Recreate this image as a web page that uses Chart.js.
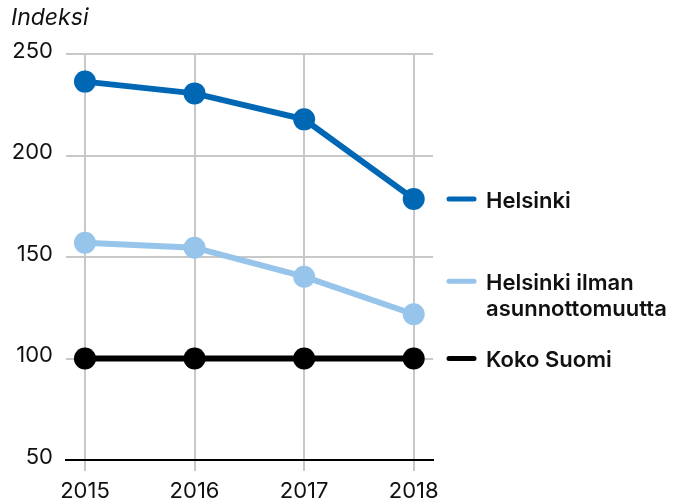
<!DOCTYPE html>
<html>
<head>
<meta charset="utf-8">
<script src="https://cdn.jsdelivr.net/npm/chart.js@4/dist/chart.umd.min.js"></script>
<style>
  html, body { margin: 0; padding: 0; background: #fff; }
  #wrap { width: 678px; height: 504px; }
</style>
</head>
<body>
<div id="wrap"><canvas id="chart"></canvas></div>
<script>
var years = [2015, 2016, 2017, 2018];
var yTicks = [50, 100, 150, 200, 250];
var helsinki = [236.4, 230.6, 217.8, 178.6];
var helsinkiIlman = [157, 154.6, 140.3, 121.8];
var kokoSuomi = [100, 100, 100, 100];
var seriesNames = [['Helsinki'], ['Helsinki ilman', 'asunnottomuutta'], ['Koko Suomi']];

var FONT = 'Inter, "Liberation Sans", Arial, sans-serif';

function pts(vals) {
  return years.map(function (y, i) { return { x: y, y: vals[i] }; });
}

function ds(vals, color) {
  return {
    data: pts(vals),
    borderColor: color,
    backgroundColor: color,
    pointBackgroundColor: color,
    pointBorderWidth: 0,
    pointRadius: 11,
    borderWidth: 6,
    clip: false
  };
}

// labels at the line ends, drawn on the canvas
var endLabels = {
  id: 'endLabels',
  afterDatasetsDraw: function (chart) {
    var ctx = chart.ctx;
    var ys = chart.scales.y;
    var offsets = [0, -33, 0];
    ctx.save();
    chart.data.datasets.forEach(function (d, i) {
      var last = d.data[d.data.length - 1].y;
      var py = ys.getPixelForValue(last) + offsets[i];
      ctx.strokeStyle = d.borderColor;
      ctx.lineWidth = 5;
      ctx.lineCap = 'round';
      ctx.beginPath();
      ctx.moveTo(449, py);
      ctx.lineTo(474, py);
      ctx.stroke();
      ctx.fillStyle = '#111';
      ctx.font = '600 22px ' + FONT;
      ctx.textBaseline = 'middle';
      ctx.textAlign = 'left';
      seriesNames[i].forEach(function (t, j) {
        ctx.fillText(t, 486, py + 2 + j * 26);
      });
    });
    // axis caption
    ctx.fillStyle = '#111';
    ctx.font = 'italic 23px ' + FONT;
    ctx.textBaseline = 'middle';
    ctx.fillText('Indeksi', 11, 18);
    ctx.restore();
  }
};

new Chart(document.getElementById('chart'), {
  type: 'line',
  data: {
    datasets: [
      ds(helsinki, '#0067b5'),
      ds(helsinkiIlman, '#97c4eb'),
      ds(kokoSuomi, '#000000')
    ]
  },
  options: {
    responsive: true,
    maintainAspectRatio: false,
    animation: false,
    layout: { padding: { top: 54, right: 245, left: 0, bottom: 0 } },
    plugins: {
      legend: { display: false },
      tooltip: { enabled: false }
    },
    scales: {
      x: {
        type: 'linear',
        min: 2014.827,
        max: 2018.176,
        afterBuildTicks: function (axis) {
          axis.ticks = years.map(function (v) { return { value: v }; });
        },
        afterFit: function (axis) { axis.height = 44; },
        grid: { color: '#c8c8c8', lineWidth: 2, tickLength: 11, drawTicks: true },
        border: { display: true, color: '#000', width: 2 },
        ticks: {
          color: '#111',
          padding: 7,
          maxRotation: 0,
          font: { family: FONT, size: 22 },
          callback: function (v) { return String(v); }
        }
      },
      y: {
        min: 50,
        max: 250,
        afterBuildTicks: function (axis) {
          axis.ticks = yTicks.map(function (v) { return { value: v }; });
        },
        afterFit: function (axis) { axis.width = 66; },
        grid: { color: '#c8c8c8', lineWidth: 2, drawTicks: false },
        border: { display: false },
        ticks: {
          color: '#111',
          padding: 13,
          labelOffset: -3,
          font: { family: FONT, size: 22 }
        }
      }
    }
  },
  plugins: [endLabels]
});
</script>
</body>
</html>
